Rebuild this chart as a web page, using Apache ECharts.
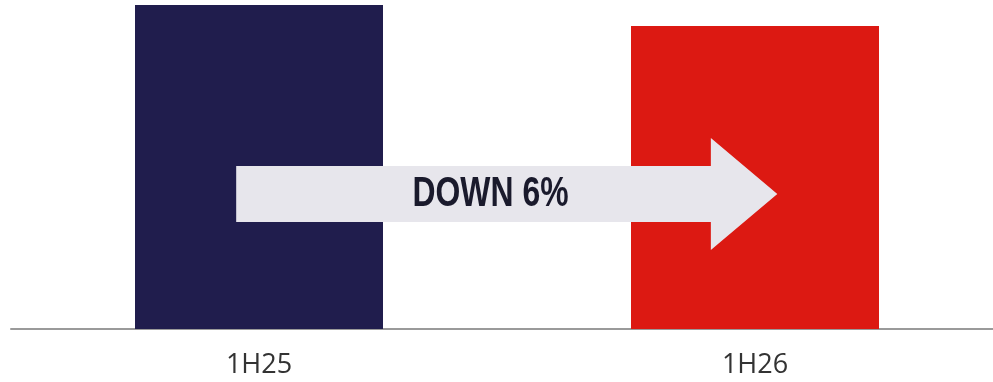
<!DOCTYPE html>
<html><head><meta charset="utf-8">
<script src="https://cdn.jsdelivr.net/npm/echarts@6/dist/echarts.min.js"></script>
<style>html,body{margin:0;padding:0;background:#fff}#c{width:993px;height:382px}</style>
</head><body><div id="c"></div>
<script>
const categories = ['1H25', '1H26'];
const values = [100, 93.5];
const barColors = ['#201d4d', '#dc1912'];
const arrowLabel = 'DOWN 6%';
const arrowLevel = 41.7;

const chart = echarts.init(document.getElementById('c'), null, {renderer: 'canvas'});
chart.setOption({
  animation: false,
  grid: {left: 11, width: 992, top: 5, bottom: 53, outerBoundsMode: 'none', containLabel: false},
  xAxis: {
    type: 'category', data: categories,
    axisLine: {show: true, lineStyle: {color: '#9a9a9a', width: 2}},
    axisTick: {show: false},
    axisLabel: {fontFamily: 'Open Sans', fontSize: 27, color: '#333', margin: 23}
  },
  yAxis: {type: 'value', min: 0, max: 100, show: false, splitLine: {show: false}},
  series: [{
    type: 'bar', barWidth: '50%',
    data: values.map((v, i) => ({value: v, itemStyle: {color: barColors[i]}}))
  }]
});

function drawArrow() {
  const p1 = chart.convertToPixel({gridIndex: 0}, [0, arrowLevel]);
  const p2 = chart.convertToPixel({gridIndex: 0}, [1, arrowLevel]);
  const bw = p2[0] - p1[0];
  const x0 = p1[0] - bw * 0.046;
  const tip = p2[0] + bw * 0.045;
  const headStart = tip - bw * 0.134;
  const y = p1[1];
  const bh = 28, hh = 56;
  chart.setOption({
    graphic: [{
      type: 'polygon', z: 10,
      shape: {points: [[x0, y - bh], [headStart, y - bh], [headStart, y - hh], [tip, y], [headStart, y + hh], [headStart, y + bh], [x0, y + bh]]},
      style: {fill: '#e7e6ec'}
    }, {
      type: 'text', z: 11,
      x: (x0 + headStart) / 2 + 17, y: y + 1, scaleX: 0.76,
      style: {text: arrowLabel, fill: '#1a1a2c', font: 'bold 42px "Liberation Sans", Arial, sans-serif', align: 'center', verticalAlign: 'middle'}
    }]
  });
}
drawArrow();
</script></body></html>
